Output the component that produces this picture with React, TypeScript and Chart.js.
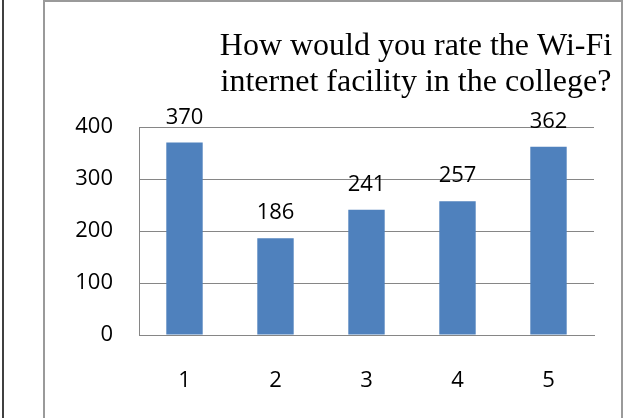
import React, { useEffect, useRef } from "react";
import { Chart, registerables } from "chart.js";

Chart.register(...registerables);

const categories = ["1", "2", "3", "4", "5"];
const values = [370, 186, 241, 257, 362];
const titleLines = ["How would you rate the Wi-Fi", "internet facility in the college?"];
const yTicks = [0, 100, 200, 300, 400];

const W = 626;
const H = 418;
const GRID = "#868686";
const BAR = "#4F81BD";
const SANS = "'Open Sans', 'Liberation Sans', sans-serif";

const framePlugin = {
  id: "frame",
  beforeDraw(chart: any) {
    const ctx = chart.ctx;
    ctx.save();
    ctx.fillStyle = "#ffffff";
    ctx.fillRect(0, 0, W, H);
    ctx.strokeStyle = "#000000";
    ctx.lineWidth = 1.5;
    ctx.beginPath();
    ctx.moveTo(3, 0);
    ctx.lineTo(3, H);
    ctx.stroke();
    ctx.strokeStyle = "#9a9a9a";
    ctx.lineWidth = 2;
    ctx.beginPath();
    ctx.moveTo(44, 0);
    ctx.lineTo(44, H);
    ctx.moveTo(44, 1);
    ctx.lineTo(622, 1);
    ctx.moveTo(622, 0);
    ctx.lineTo(622, H);
    ctx.stroke();
    ctx.restore();
  },
  afterDraw(chart: any) {
    const ctx = chart.ctx;
    ctx.save();
    ctx.fillStyle = "#000000";
    ctx.font = "32px 'Liberation Serif', 'Times New Roman', serif";
    ctx.textAlign = "center";
    ctx.textBaseline = "alphabetic";
    ctx.fillText(titleLines[0], 416, 55);
    ctx.fillText(titleLines[1], 416, 91);
    ctx.restore();
  },
};

const labelPlugin = {
  id: "barLabels",
  afterDatasetsDraw(chart: any) {
    const ctx = chart.ctx;
    const meta = chart.getDatasetMeta(0);
    ctx.save();
    ctx.fillStyle = "#000000";
    ctx.font = `22px ${SANS}`;
    ctx.textAlign = "center";
    ctx.textBaseline = "alphabetic";
    meta.data.forEach((el: any, i: number) => {
      ctx.fillText(String(values[i]), el.x, el.y - 19);
    });
    ctx.restore();
  },
};

export default function App() {
  const ref = useRef<HTMLCanvasElement>(null);
  useEffect(() => {
    if (!ref.current) return;
    const chart = new Chart(ref.current, {
      type: "bar",
      data: {
        labels: categories,
        datasets: [
          {
            data: values,
            backgroundColor: BAR,
            borderWidth: 0,
            barPercentage: 0.4,
            categoryPercentage: 1,
          },
        ],
      },
      options: {
        responsive: false,
        animation: false,
        devicePixelRatio: 1,
        layout: { padding: { left: 0, top: 127, right: 32, bottom: 0 } },
        plugins: {
          legend: { display: false },
          title: { display: false },
          tooltip: { enabled: false },
        },
        scales: {
          x: {
            grid: { display: false },
            border: { display: true, color: GRID, width: 1 },
            ticks: { color: "#000", font: { family: SANS, size: 22 }, padding: 25 },
            afterFit(scale: any) {
              scale.height = 83;
            },
          },
          y: {
            min: 0,
            max: 400,
            afterBuildTicks(scale: any) {
              scale.ticks = yTicks.map((v) => ({ value: v }));
            },
            grid: { color: GRID, lineWidth: 1, drawTicks: false },
            border: { display: true, color: GRID, width: 1 },
            ticks: { color: "#000", font: { family: SANS, size: 22 }, padding: 26 },
            afterFit(scale: any) {
              scale.width = 139;
            },
          },
        },
      },
      plugins: [framePlugin, labelPlugin],
    });
    return () => chart.destroy();
  }, []);
  return (
    <div style={{ position: "fixed", left: 0, top: 0, width: W, height: H, background: "#fff" }}>
      <canvas ref={ref} width={W} height={H} style={{ display: "block", width: W, height: H }} />
    </div>
  );
}
